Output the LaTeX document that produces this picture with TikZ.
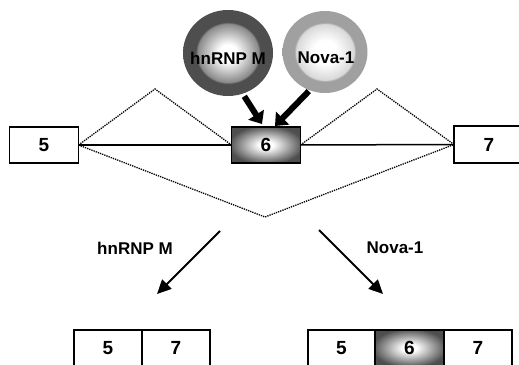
\documentclass[tikz,border=0pt]{standalone}
\usepackage{fontspec}
\setmainfont{Liberation Sans}
\usetikzlibrary{arrows.meta,positioning,shapes.geometric,calc}
\definecolor{splDark}{HTML}{4E4E4E}
\definecolor{splMid}{HTML}{8A8A8A}
\definecolor{splLight}{HTML}{A0A0A0}
\pgfdeclareradialshading{splBoxGlow}{\pgfpoint{0bp}{0bp}}{color(0bp)=(white); color(5bp)=(white); color(27bp)=(splDark); color(50bp)=(splDark)}
\pgfdeclareradialshading{splGlowDark}{\pgfpoint{0bp}{0bp}}{color(0bp)=(white); color(5bp)=(white); color(17bp)=(splMid); color(18bp)=(splDark); color(50bp)=(splDark)}
\pgfdeclareradialshading{splGlowLight}{\pgfpoint{0bp}{0bp}}{color(0bp)=(white); color(7bp)=(white); color(17bp)=(gray!30); color(18bp)=(splLight); color(50bp)=(splLight)}
\tikzset{
  splExon/.style={
    draw=black,
    fill=white,
    line width=1.4pt,
    minimum width=69pt,
    minimum height=36pt,
    inner sep=0pt,
    outer sep=0pt,
    font=\fontsize{19}{19}\selectfont\bfseries
  },
  splAlt/.style={splExon, shading=splBoxGlow},
  splFactor/.style={
    ellipse,
    shading=#1,
    minimum width=90pt,
    minimum height=86pt,
    inner sep=0pt
  },
  splLabel/.style={font=\fontsize{17}{17}\selectfont\bfseries},
  splIntron/.style={line width=1.5pt},
  splSkip/.style={densely dotted, line width=1.3pt},
  splBind/.style={-{Triangle[length=11pt,width=18pt]}, line width=6pt},
  splArrow/.style={-{Triangle[length=14pt,width=13pt]}, line width=2pt}
}
\begin{document}
\begin{tikzpicture}[x=1pt, y=1pt]
  \useasboundingbox (0,0) rectangle (519,364);

  % pre-mRNA
  \node[splExon] (exon5) at (44,219) {5};
  \node[splAlt] (exon6) at (266,219) {6};
  \node[splExon, minimum width=70pt, minimum height=37pt] (exon7) at (489,219.5) {7};
  \draw[splIntron] (exon5) -- (exon6);
  \draw[splIntron] (exon6) -- (exon7);

  % splice choices
  \coordinate (peakL) at (155,275);
  \coordinate (peakR) at (377,275);
  \coordinate (skipLow) at (265,147);
  \draw[splSkip] (exon5.east) -- (peakL) -- (exon6.west);
  \draw[splSkip] (exon6.east) -- (peakR) -- (exon7.west);
  \draw[splSkip] (exon5.east) -- (skipLow) -- (exon7.west);

  % regulators
  \node[splFactor=splGlowDark] (hnrnpm) at (228,311) {};
  \node[splFactor=splGlowLight, minimum width=85pt, minimum height=82pt] (nova) at (325,312) {};
  \node[splLabel] at ($(hnrnpm.center)+(0,-5)$) {hnRNP M};
  \node[splLabel] at ($(nova.center)+(1,-6)$) {Nova-1};
  \coordinate (bindL) at ($(exon6.north)+(-4,3)$);
  \coordinate (bindR) at ($(exon6.north)+(9,1)$);
  \draw[splBind] ($(hnrnpm.-68)+(0,-3)$) -- (bindL);
  \draw[splBind] ($(nova.-113)+(0,-1)$) -- (bindR);

  % outcomes
  \coordinate (outL) at ($(skipLow)+(-45,-14)$);
  \coordinate (outR) at ($(skipLow)+(54,-13)$);
  \coordinate (endL) at (157,70);
  \coordinate (endR) at (383,70);
  \draw[splArrow] (outL) -- (endL);
  \draw[splArrow] (outR) -- (endR);
  \node[splLabel] (byM) at (135,116) {hnRNP M};
  \node[splLabel] (byNova) at (395,116) {Nova-1};

  \node[splExon, minimum width=68pt] (skip5) at (108,16) {5};
  \node[splExon, minimum width=68pt, right=0pt of skip5] (skip7) {7};
  \node[splExon, minimum width=67pt] (inc5) at (341.5,16) {5};
  \node[splAlt, right=0pt of inc5] (inc6) {6};
  \node[splExon, minimum width=68pt, right=0pt of inc6] (inc7) {7};
\end{tikzpicture}
\end{document}
